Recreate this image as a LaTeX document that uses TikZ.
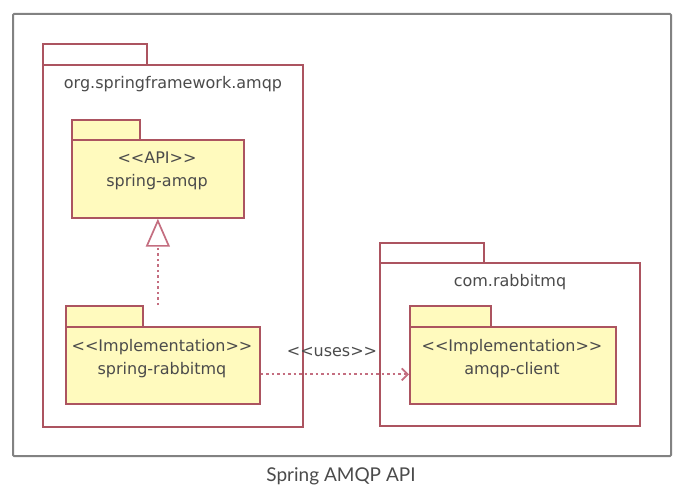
\documentclass[tikz,border=0pt]{standalone}
\usepackage{fontspec}
\setmainfont{DejaVu Sans}
\newfontfamily\capfont{Lato}
\usetikzlibrary{arrows.meta}
\definecolor{pkgred}{RGB}{172,84,96}
\definecolor{pkgfill}{RGB}{255,250,190}
\definecolor{txtgray}{RGB}{75,75,75}
\definecolor{framegray}{RGB}{130,130,130}
\definecolor{arrowred}{RGB}{196,110,128}
\newcommand\stereo[1]{<\kern0pt<#1>\kern0pt>}
\tikzset{
  pkgbox/.style={draw=pkgred, line width=1.7pt, fill=white, anchor=north west, inner sep=0pt},
  innerbox/.style={pkgbox, fill=pkgfill},
  lbl/.style={text=txtgray, font=\fontsize{16}{23}\selectfont, inner sep=0pt, align=center},
  dep/.style={draw=arrowred, line width=1.8pt, dash pattern=on 2.5pt off 3pt},
}
\begin{document}
\begin{tikzpicture}[x=1pt,y=-1pt]
\useasboundingbox (0,0) rectangle (697,495);
\node[draw=framegray, line width=2pt, rounded corners=1pt, minimum width=658pt, minimum height=442pt, anchor=north west, inner sep=0pt] (frame) at (12,13) {};
% left package
\node[pkgbox, minimum width=104pt, minimum height=21pt] (ltab) at (42,43) {};
\node[pkgbox, minimum width=260pt, minimum height=362pt] (lbody) at (42,64) {};
\node[lbl] (ltitle) at (173,84) {org.springframework.amqp};
% spring-amqp
\node[innerbox, minimum width=68pt, minimum height=20pt] (apitab) at (71,119) {};
\node[innerbox, minimum width=172pt, minimum height=78pt] (apibody) at (71,139) {};
\node[lbl] (apitxt) at (157,171) {\stereo{API}\\spring-amqp};
% spring-rabbitmq
\node[innerbox, minimum width=77pt, minimum height=21pt] (rabtab) at (65,305) {};
\node[innerbox, minimum width=194pt, minimum height=77pt] (rabbody) at (65,326) {};
\node[lbl] (rabtxt) at (162,359) {\stereo{Implementation}\\spring-rabbitmq};
% right package
\node[pkgbox, minimum width=104pt, minimum height=20pt] (rtab) at (379,242) {};
\node[pkgbox, minimum width=260pt, minimum height=163pt] (rbody) at (379,262) {};
\node[lbl] (rtitle) at (510,282) {com.rabbitmq};
% amqp-client
\node[innerbox, minimum width=81pt, minimum height=21pt] (clitab) at (409,305) {};
\node[innerbox, minimum width=206pt, minimum height=77pt] (clibody) at (409,326) {};
\node[lbl] (clitxt) at (512,359) {\stereo{Implementation}\\amqp-client};
% realization
\draw[dep, -{Triangle[open, length=28pt, width=24pt, line width=1.7pt, fill=white]}] (rabtab.north -| apibody.south) -- (apibody.south);
% uses
\draw[dep, -{Straight Barb[length=6pt, width=12pt, line width=1.7pt]}] ([yshift=-9pt]rabbody.east) -- ([yshift=-9pt]clibody.west);
\node[lbl] (uses) at (332,352) {\stereo{uses}};
% caption
\node[text=txtgray, font=\capfont\fontsize{19}{21}\selectfont, inner sep=0pt] (cap) at (341,476) {Spring AMQP API};
\end{tikzpicture}
\end{document}
